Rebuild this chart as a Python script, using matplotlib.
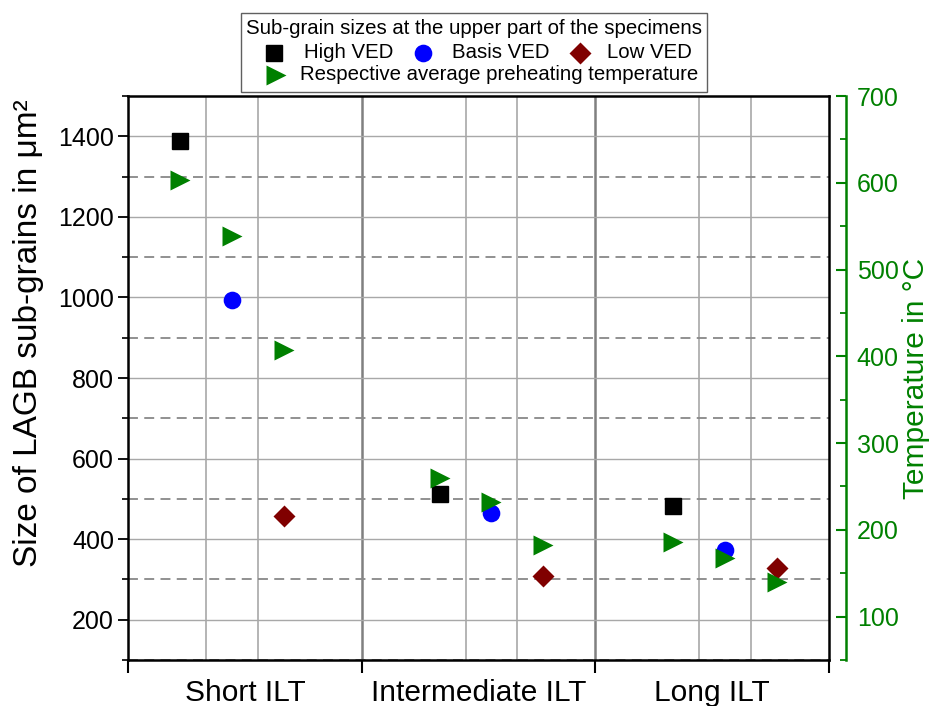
import matplotlib
matplotlib.use("Agg")
import matplotlib.pyplot as plt
from matplotlib.lines import Line2D
from matplotlib.patches import Rectangle
from matplotlib.ticker import MultipleLocator, FixedLocator, NullFormatter, FixedFormatter

plt.rcParams["font.family"] = ["Liberation Sans", "DejaVu Sans"]

# categories on the x axis
groups = ["Short ILT", "Intermediate ILT", "Long ILT"]
group_centers = [1.5, 4.5, 7.5]
group_edges = [0, 3, 6, 9]

# x position of each specimen inside the groups
x_high = [2 / 3, 4.0, 7.0]
x_basis = [4 / 3, 14 / 3, 23 / 3]
x_low = [2.0, 16 / 3, 25 / 3]

# sub-grain sizes (um^2)
size_high = [1388, 512, 483]
size_basis = [993, 465, 373]
size_low = [458, 309, 328]

# average preheating temperatures (deg C)
temp_high = [603, 260, 186]
temp_basis = [539, 232, 168]
temp_low = [407, 182, 140]

GREEN = "#008000"
W, H = 932, 706


def fx(px):
    return px / W


def fy(py):
    return 1 - py / H


fig = plt.figure(figsize=(W / 100, H / 100), dpi=100)
ax = fig.add_axes([fx(128), fy(660), fx(829) - fx(128), fy(96) - fy(660)])

ax.set_xlim(group_edges[0], group_edges[-1])
ax.set_ylim(100, 1500)

# horizontal grid: solid at major, dashed at minor
ax.yaxis.set_major_locator(MultipleLocator(200))
ax.yaxis.set_minor_locator(MultipleLocator(100))
ax.grid(which="major", axis="y", color="#a8a8a8", lw=1.0, zorder=0)
ax.grid(which="minor", axis="y", color="#888888", lw=1.3, ls=(0, (5.5, 3.5)), zorder=0)

# vertical lines: between specimens (light) and between groups (dark)
for xs in zip(x_high, x_basis, x_low):
    for a, b in zip(xs[:-1], xs[1:]):
        ax.axvline((a + b) / 2, color="#a8a8a8", lw=1.2, zorder=0)
for e in group_edges[1:-1]:
    ax.axvline(e, color="#808080", lw=1.8, zorder=0)

# x axis: ticks at group edges, labels at group centres
ax.xaxis.set_major_locator(FixedLocator(group_edges))
ax.xaxis.set_major_formatter(NullFormatter())
ax.xaxis.set_minor_locator(FixedLocator(group_centers))
ax.xaxis.set_minor_formatter(FixedFormatter(groups))
ax.tick_params(axis="x", which="major", direction="out", length=9, width=1.5)
ax.tick_params(axis="x", which="minor", length=0, pad=14, labelsize=21.5)

ax.tick_params(axis="y", which="major", direction="out", length=7, width=1.3,
               pad=3, labelsize=18)
ax.tick_params(axis="y", which="minor", direction="out", length=4, width=1.2)

for s in ax.spines.values():
    s.set_linewidth(1.8)
    s.set_color("black")

ax.set_ylabel("Size of LAGB sub-grains in μm²", fontsize=24)
ax.yaxis.set_label_coords((44 - 128) / 701, (660 - 333) / 564)

# sub-grain sizes
ms_sq, ms_ci, ms_di, ms_tr = 11.3, 12.7, 11.2, 14
ax.plot(x_high, size_high, ls="none", marker="s", ms=ms_sq, color="black", zorder=3)
ax.plot(x_basis, size_basis, ls="none", marker="o", ms=ms_ci, color="#0000ff",
        mec="none", zorder=3)
ax.plot(x_low, size_low, ls="none", marker="D", ms=ms_di, color="#800000",
        mec="none", zorder=3)

# temperatures on a second axis
ax2 = ax.twinx()
ax2.set_ylim(50, 700)
ax2.yaxis.set_major_locator(MultipleLocator(100))
ax2.yaxis.set_minor_locator(MultipleLocator(50))
for name in ("left", "top", "bottom"):
    ax2.spines[name].set_visible(False)
ax2.spines["right"].set_position(("outward", 12))
ax2.spines["right"].set_color(GREEN)
ax2.spines["right"].set_linewidth(1.8)
ax2.tick_params(axis="y", which="major", direction="in", length=7, width=1.5,
                colors=GREEN, labelsize=18, pad=8)
ax2.tick_params(axis="y", which="minor", direction="in", length=4, width=1.3,
                colors=GREEN)
ax2.set_ylabel("Temperature in °C", fontsize=21.5, color=GREEN)
ax2.yaxis.set_label_coords((902 - 128) / 701, (660 - 378) / 564)

for xs, ts in ((x_high, temp_high), (x_basis, temp_basis), (x_low, temp_low)):
    ax2.plot(xs, ts, ls="none", marker=">", ms=ms_tr, color=GREEN, mec="none",
             zorder=4)

# legend drawn by hand (title line, three markers in a row, one on its own row)
fig.add_artist(Rectangle((fx(241), fy(91.5)), fx(706.5) - fx(241), fy(13) - fy(91.5),
                         transform=fig.transFigure, facecolor="white",
                         edgecolor="#606060", lw=1.0))
fig.text(fx(474), fy(28), "Sub-grain sizes at the upper part of the specimens",
         ha="center", va="center", fontsize=14.7)
leg_items = [
    ("s", "black", ms_sq, 274, 53, "High VED", 304),
    ("o", "#0000ff", ms_ci, 423, 53, "Basis VED", 452),
    ("D", "#800000", ms_di, 580, 53, "Low VED", 607),
    (">", GREEN, ms_tr, 276, 75, "Respective average preheating temperature", 300),
]
for mk, col, ms, mx, my, lab, tx in leg_items:
    fig.add_artist(Line2D([fx(mx)], [fy(my)], marker=mk, ms=ms, color=col,
                          mec="none" if mk != "s" else col, ls="none",
                          transform=fig.transFigure))
    fig.text(fx(tx), fy(my), lab, ha="left", va="center", fontsize=14.7)

fig.savefig("out.png", dpi=100)
